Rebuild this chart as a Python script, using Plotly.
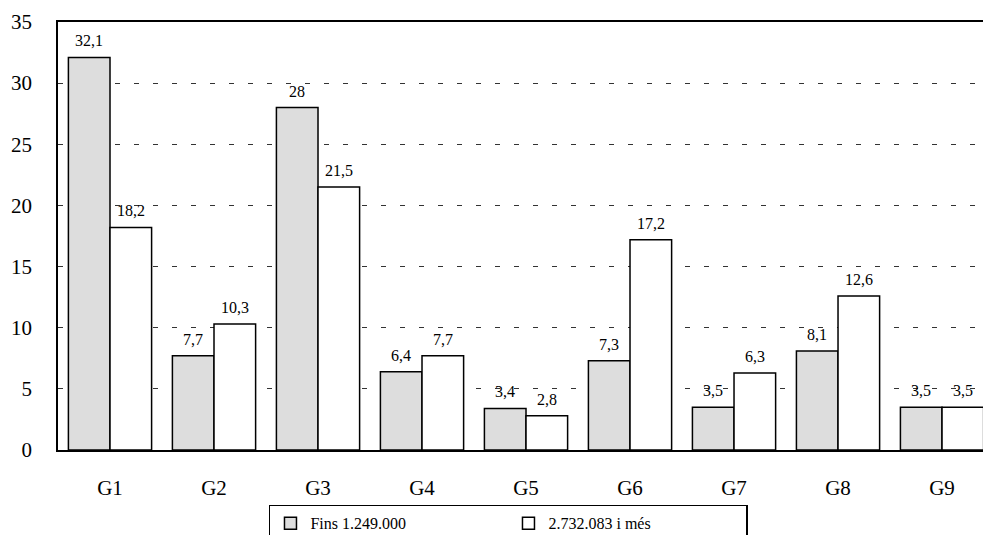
import plotly.graph_objects as go

categories = ["G1", "G2", "G3", "G4", "G5", "G6", "G7", "G8", "G9"]
series1_name = "Fins 1.249.000"
series2_name = "2.732.083 i més"
series1 = [32.1, 7.7, 28, 6.4, 3.4, 7.3, 3.5, 8.1, 3.5]
series2 = [18.2, 10.3, 21.5, 7.7, 2.8, 17.2, 6.3, 12.6, 3.5]
y_ticks = [0, 5, 10, 15, 20, 25, 30, 35]

FONT = "Liberation Serif"

def fmt(v):
    return f"{v:g}".replace(".", ",")

fig = go.Figure()
fig.add_trace(go.Bar(x=categories, y=series1, name=series1_name,
                     marker=dict(color="#dddddd", line=dict(color="black", width=1.5))))
fig.add_trace(go.Bar(x=categories, y=series2, name=series2_name,
                     marker=dict(color="white", line=dict(color="black", width=1.5))))

ann = []
for vals, shift in ((series1, -20.8), (series2, 20.8)):
    for c, v in zip(categories, vals):
        ann.append(dict(x=c, y=v, text=fmt(v), showarrow=False, xshift=shift,
                        yanchor="bottom", yshift=6,
                        font=dict(family=FONT, size=16, color="black")))

fig.update_layout(
    width=983, height=535,
    margin=dict(l=58, r=0, t=22, b=85, autoexpand=False),
    paper_bgcolor="white", plot_bgcolor="white",
    font=dict(family=FONT, color="black"),
    barmode="group", bargap=0.2, bargroupgap=0,
    annotations=ann,
    showlegend=True,
    legend=dict(orientation="h", x=0.487, xanchor="center", y=-0.128, yanchor="top",
                bordercolor="black", borderwidth=1.5, entrywidth=193,
                font=dict(family=FONT, size=16, color="black"),
                traceorder="normal"),
    xaxis=dict(range=[-0.5, 8.394], showline=True, linecolor="black", linewidth=1.5,
               mirror=True, showgrid=False, ticks="", ticklabelstandoff=18,
               automargin=False,
               tickfont=dict(family=FONT, size=21, color="black")),
    yaxis=dict(range=[0, 35], tickvals=y_ticks, showline=True, linecolor="black", linewidth=1.5,
               showgrid=True, gridcolor="#333333", gridwidth=1, griddash="5px,14px",
               zeroline=False, ticks="", ticklabelstandoff=20, automargin=False,
               tickfont=dict(family=FONT, size=21, color="black")),
)

fig.write_html("out.html", config={"displayModeBar": False},
               post_script="document.body.style.margin='0';document.body.style.overflow='hidden';")
